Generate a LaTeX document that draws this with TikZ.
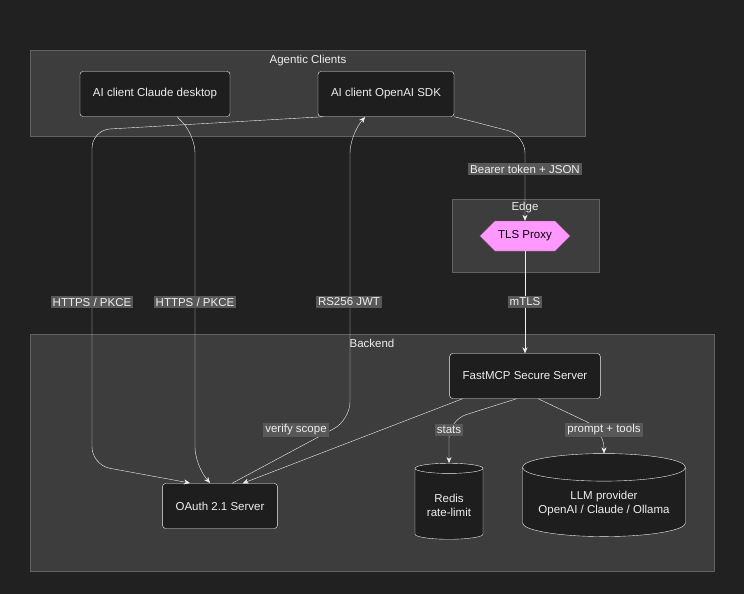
\documentclass[tikz,border=0pt]{standalone}
\usepackage{fontspec}
\setmainfont{Liberation Sans}
\usetikzlibrary{arrows.meta,shapes.geometric,shapes.symbols}
\definecolor{bg}{HTML}{212121}
\definecolor{grp}{HTML}{3D3D3D}
\definecolor{grpline}{HTML}{626262}
\definecolor{nodebg}{HTML}{1E1E1E}
\definecolor{ink}{HTML}{EEEEEE}
\definecolor{lbl}{HTML}{585858}
\definecolor{proxy}{HTML}{FF99FF}

\begin{document}
\begin{tikzpicture}[x=1pt,y=-1pt,font=\fontsize{11.5}{14}\selectfont,text=ink]
    \fill[bg] (0,0) rectangle (744,594);
    \useasboundingbox (0,0) rectangle (744,594);

    % groups
    \begin{scope}[every path/.style={fill=grp,draw=grpline}]
      \path (30,50) rectangle (585,136);
      \path (452,199) rectangle (599,272);
      \path (30,334) rectangle (714,571);
    \end{scope}
    \node (tclients) at (308,61) {Agentic Clients};
    \node (tedge) at (525,208) {Edge};
    \node (tback) at (372,343) {Backend};

    \begin{scope}[every node/.style={draw=ink!80,fill=nodebg,rounded corners=3pt,
        minimum height=45pt,inner xsep=13pt}]
      \node (claude) at (155,94) {AI client Claude desktop};
      \node (sdk) at (386,94) {AI client OpenAI SDK};
      \node (fastmcp) at (525,376) {FastMCP Secure Server};
      \node (oauth) at (220,506) {OAuth 2.1 Server};
    \end{scope}
    \node (proxy) [signal,signal to=east and west,fill=proxy,draw=proxy!60!black,
      text=black,minimum width=90pt,minimum height=30pt] at (525,236) {TLS Proxy};
    \begin{scope}[every node/.style={cylinder,shape border rotate=90,draw=ink!80,
        fill=nodebg,aspect=0.2,align=center}]
      \node (redis) [minimum width=68pt,minimum height=76pt] at (449,505) {Redis\\rate-limit};
      \node (llm) [minimum width=163pt,minimum height=83pt] at (604,504)
        {LLM provider\\OpenAI / Claude / Ollama};
    \end{scope}

    \begin{scope}[>={Stealth[length=6pt,width=5pt]},
        link/.style={draw=ink!75,rounded corners=18pt,->},
        every node/.style={fill=lbl,inner sep=2pt}]
      \path [link] (sdk.200) -- (92,130) -- (92,465) -- (190,483);
      \path [link] (claude.south) ++(22,0) -- (195,135) -- (195,465) -- (210,483);
      \path [link] (oauth.north) ++(12,0) -- (350,420) -- (350,135) -- (365,117);
      \path [link] (sdk.south east) -- (525,135) -- (proxy.north);
      \path [link] (proxy.south) -- (fastmcp.north);
      \path [link] (fastmcp.200) -- (oauth.45);
      \path [link] (fastmcp.250) -- (449,420) -- (redis.north);
      \path [link] (fastmcp.300) -- (604,430) -- (llm.north);
      \node at (92,302) {HTTPS / PKCE};
      \node at (195,302) {HTTPS / PKCE};
      \node at (349,302) {RS256 JWT};
      \node at (525,169) {Bearer token + JSON};
      \node at (525,302) {mTLS};
      \node at (296,430) {verify scope};
      \node at (449,430) {stats};
      \node at (604,430) {prompt + tools};
    \end{scope}
  \end{tikzpicture}
\end{document}
